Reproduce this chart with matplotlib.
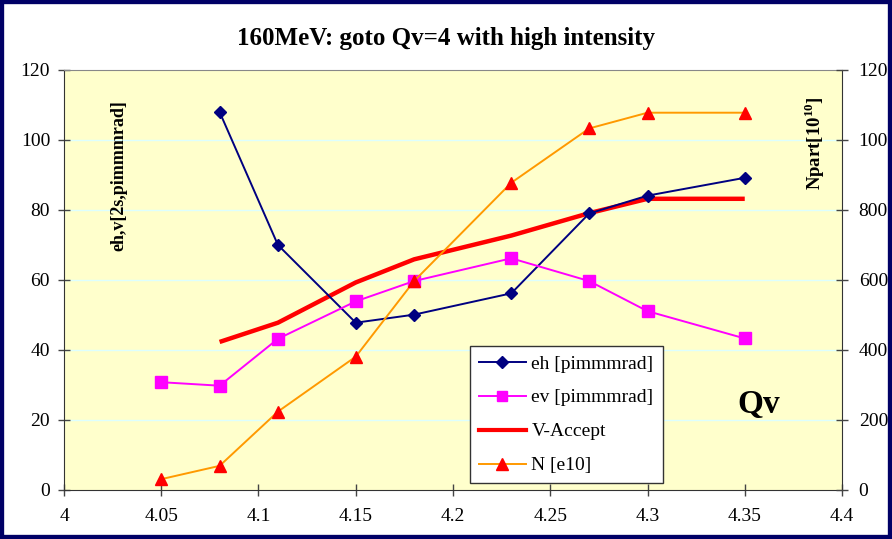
import matplotlib
matplotlib.use("Agg")
import matplotlib.pyplot as plt
from matplotlib.patches import Rectangle
from matplotlib.lines import Line2D

# Tune values (Qv) and measured quantities
qv_eh = [4.08, 4.11, 4.15, 4.18, 4.23, 4.27, 4.30, 4.35]
eh = [108.0, 70.0, 47.8, 50.1, 56.2, 79.0, 84.1, 89.2]

qv_ev = [4.05, 4.08, 4.11, 4.15, 4.18, 4.23, 4.27, 4.30, 4.35]
ev = [30.8, 29.8, 43.2, 53.9, 59.7, 66.2, 59.7, 51.1, 43.3]

qv_acc = [4.08, 4.11, 4.15, 4.18, 4.23, 4.27, 4.30, 4.35]
v_accept = [42.3, 47.8, 59.3, 65.9, 72.7, 79.1, 83.2, 83.2]

qv_n = [4.05, 4.08, 4.11, 4.15, 4.18, 4.23, 4.27, 4.30, 4.35]
npart = [31, 69, 224, 381, 597, 878, 1033, 1078, 1078]

x_ticks = [4, 4.05, 4.1, 4.15, 4.2, 4.25, 4.3, 4.35, 4.4]
x_tick_labels = ["4", "4.05", "4.1", "4.15", "4.2", "4.25", "4.3", "4.35", "4.4"]
left_ticks = [0, 20, 40, 60, 80, 100, 120]
right_ticks = [0, 200, 400, 600, 800, 1000, 1200]

plt.rcParams["font.family"] = ["Liberation Serif", "DejaVu Serif"]
plt.rcParams["mathtext.fontset"] = "custom"
plt.rcParams["mathtext.rm"] = "Liberation Serif"
plt.rcParams["mathtext.bf"] = "Liberation Serif:bold"

W, H = 892, 539
fig = plt.figure(figsize=(W / 100, H / 100), dpi=100)
fig.patch.set_facecolor("white")

ax = fig.add_axes([64 / W, 1 - 490 / H, (842 - 64) / W, (490 - 70) / H])
ax.set_facecolor("#FFFFCC")
ax.set_xlim(4, 4.4)
ax.set_ylim(0, 120)
ax.set_xticks(x_ticks)
ax.set_xticklabels(x_tick_labels)
ax.set_yticks(left_ticks)
ax.tick_params(axis="both", direction="inout", length=8, width=1, color="#444444",
               labelsize=14, pad=6)
ax.tick_params(axis="x", pad=9)
for y in left_ticks[1:-1]:
    ax.axhline(y, color="#DDFFFF", lw=1, zorder=0)
for side in ["left", "bottom", "right"]:
    ax.spines[side].set_color("#333333")
ax.spines["top"].set_color("#888888")

ax.plot(qv_eh, eh, color="#000080", lw=1.4, marker="D", ms=6.5, mfc="#000080",
        mec="#000080", zorder=4)
ax.plot(qv_ev, ev, color="#FF00FF", lw=1.4, marker="s", ms=8, mfc="#FF00FF",
        mec="#FF00FF", zorder=4)
ax.plot(qv_acc, v_accept, color="#FF0000", lw=3.2, zorder=3, solid_capstyle="butt")

ax2 = ax.twinx()
ax2.set_ylim(0, 1200)
ax2.set_yticks(right_ticks)
ax2.tick_params(axis="y", direction="inout", length=8, width=1, color="#444444",
                labelsize=14, pad=8)
for s in ax2.spines.values():
    s.set_visible(False)
ax2.plot(qv_n, npart, color="#FF9900", lw=1.4, marker="^", ms=9, mfc="#FF0000",
         mec="#FF0000", zorder=5)

fig.text(0.5, 1 - 38 / H, "160MeV: goto Qv=4 with high intensity", ha="center",
         va="center", fontsize=18, fontweight="bold")
ax.text(119 / W, 1 - 176 / H, "eh,v[2s,pimmmrad]", transform=fig.transFigure,
        rotation=90, ha="center", va="center", fontsize=13, fontweight="bold")
ax.text(815 / W, 1 - 143 / H, r"Npart[10$^{\mathbf{10}}$]", transform=fig.transFigure,
        rotation=90, ha="center", va="center", fontsize=13.5, fontweight="bold")
ax.text(759 / W, 1 - 405 / H, "Qv", transform=fig.transFigure, ha="center",
        va="center", fontsize=24, fontweight="bold")

handles = [
    Line2D([], [], color="#000080", lw=1.4, marker="D", ms=6, mfc="#000080", mec="#000080"),
    Line2D([], [], color="#FF00FF", lw=1.4, marker="s", ms=7, mfc="#FF00FF", mec="#FF00FF"),
    Line2D([], [], color="#FF0000", lw=3),
    Line2D([], [], color="#FF9900", lw=1.4, marker="^", ms=8, mfc="#FF0000", mec="#FF0000"),
]
labels = ["eh [pimmmrad]", "ev [pimmmrad]", "V-Accept", "N [e10]"]
leg = ax2.legend(handles, labels, loc="upper left",
                 bbox_to_anchor=((470 - 64) / (842 - 64), (490 - 346) / 420),
                 fontsize=14, frameon=True, fancybox=False,
                 edgecolor="#333333", framealpha=1, handlelength=2.4,
                 handletextpad=0.3, borderaxespad=0, labelspacing=0.84,
                 borderpad=0.46)
leg.get_frame().set_linewidth(1)
leg.set_zorder(10)

fig.patches.append(Rectangle((0, 0), 1, 1, transform=fig.transFigure, fill=False,
                             edgecolor="#000066", lw=6, zorder=20))

fig.savefig("out.png", dpi=100)
